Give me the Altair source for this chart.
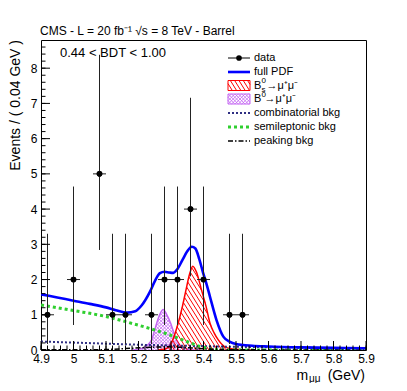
import altair as alt
import numpy as np
import pandas as pd

# ---------------- data ----------------
bin_x = [4.92, 5.00, 5.08, 5.12, 5.16, 5.24, 5.28, 5.32, 5.36, 5.40, 5.48, 5.52]
counts = [1, 2, 5, 1, 1, 1, 2, 2, 4, 2, 1, 1]
err_lo = [0.17, 0.71, 2.84, 0.17, 0.17, 0.17, 0.71, 0.71, 2.09, 0.71, 0.17, 0.17]
err_hi = [3.30, 4.64, 8.38, 3.30, 3.30, 3.30, 4.64, 4.64, 7.16, 4.64, 3.30, 3.30]
bin_half = 0.02

pdf_x = [4.90, 4.95, 5.00, 5.05, 5.10, 5.13, 5.165, 5.19, 5.21, 5.235, 5.25, 5.266, 5.28, 5.295,
         5.307, 5.32, 5.335, 5.35, 5.364, 5.375, 5.387, 5.399, 5.41, 5.42, 5.44, 5.461, 5.48,
         5.50, 5.55, 5.60, 5.70, 5.80, 5.90]
pdf_y = [1.58, 1.49, 1.40, 1.31, 1.21, 1.13, 1.06, 1.10, 1.27, 1.65, 1.95, 2.18, 2.22, 2.20,
         2.19, 2.30, 2.55, 2.80, 2.93, 2.88, 2.58, 2.18, 1.85, 1.51, 0.85, 0.38, 0.24,
         0.17, 0.12, 0.10, 0.075, 0.06, 0.05]

bs_x = [5.26, 5.28, 5.292, 5.305, 5.322, 5.335, 5.346, 5.357, 5.367, 5.378, 5.394, 5.408,
        5.42, 5.433, 5.446, 5.466, 5.49, 5.52, 5.56]
bs_y = [0.0, 0.03, 0.08, 0.28, 0.76, 1.23, 1.70, 2.15, 2.38, 2.22, 1.70, 1.23,
        0.76, 0.48, 0.28, 0.09, 0.03, 0.01, 0.0]

b0_x = [5.18, 5.20, 5.22, 5.24, 5.256, 5.266, 5.276, 5.286, 5.299, 5.31, 5.317, 5.335, 5.36, 5.39]
b0_y = [0.0, 0.02, 0.08, 0.28, 0.76, 1.02, 1.15, 1.02, 0.76, 0.45, 0.28, 0.08, 0.01, 0.0]

comb_x = [4.9, 5.0, 5.1, 5.2, 5.3, 5.4, 5.5, 5.6, 5.7, 5.8, 5.9]
comb_y = [0.24, 0.21, 0.18, 0.15, 0.13, 0.11, 0.09, 0.08, 0.065, 0.055, 0.045]

semi_x = [4.9, 5.0, 5.1, 5.17, 5.235, 5.29, 5.338, 5.39, 5.43, 5.46, 5.6, 5.9]
semi_y = [1.28, 1.12, 0.95, 0.78, 0.61, 0.45, 0.28, 0.10, 0.02, 0.0, 0.0, 0.0]

peak_x = [4.9, 5.05, 5.12, 5.18, 5.24, 5.29, 5.34, 5.39, 5.44, 5.5, 5.9]
peak_y = [0.005, 0.005, 0.02, 0.05, 0.08, 0.09, 0.07, 0.04, 0.015, 0.005, 0.0]

x_ticks = [4.9, 5.0, 5.1, 5.2, 5.3, 5.4, 5.5, 5.6, 5.7, 5.8, 5.9]
y_ticks = [0, 1, 2, 3, 4, 5, 6, 7, 8]

# ---------------- geometry ----------------
W, H = 325, 310
XMIN, XMAX, YMAX = 4.9, 5.9, 8.8
SX = W / (XMAX - XMIN)
SY = H / YMAX
FONT = "Liberation Sans"

xs = alt.Scale(domain=[XMIN, XMAX], nice=False, zero=False)
ys = alt.Scale(domain=[0, YMAX], nice=False, zero=False)

AX = alt.Axis(values=x_ticks, labelExpr="format(datum.value, '.1~f')",
              ticks=False, domain=False, grid=False, title=None,
              labelFont=FONT, labelFontSize=12, labelColor="black",
              labelPadding=3, labelFlush=False)
AY = alt.Axis(values=y_ticks, format="d", ticks=False, domain=False,
              grid=False, title=None, labelFont=FONT, labelFontSize=12,
              labelColor="black", labelPadding=4, labelFlush=False)


def X(f):
    return alt.X(f, type="quantitative", scale=xs, axis=AX)


def Y(f):
    return alt.Y(f, type="quantitative", scale=ys, axis=AY)


def hatch(cx, cy, spacing_px, slope_px):
    """segments of parallel lines clipped to the area under the curve (data coords)."""
    m = -slope_px * SX / SY
    lo, hi = min(cx), max(cx)
    grid = np.linspace(lo, hi, 3000)
    f = np.interp(grid, cx, cy)
    span = max(cy) / abs(m)
    segs = []
    for c in np.arange(lo - span, hi + span, spacing_px / SX):
        yl = m * (grid - c)
        inside = (yl >= 0) & (yl <= f)
        edges = np.flatnonzero(np.diff(np.concatenate([[0], inside.astype(int), [0]])))
        for a, b in zip(edges[::2], edges[1::2]):
            if b - a < 2:
                continue
            segs.append((grid[a], yl[a], grid[b - 1], yl[b - 1]))
    return pd.DataFrame(segs, columns=["x", "y", "x2", "y2"])


def hatch_box(x0, x1, y0, y1, spacing, slope):
    """hatch lines inside a legend rectangle given in pixels, returned in data coords."""
    grid = np.linspace(x0, x1, 400)
    segs = []
    span = (y1 - y0) / abs(slope)
    for c in np.arange(x0 - span, x1 + span, spacing):
        yl = y0 + slope * (grid - c) if slope > 0 else y1 + slope * (grid - c)
        inside = (yl >= y0) & (yl <= y1)
        idx = np.flatnonzero(inside)
        if len(idx) < 2:
            continue
        a, b = idx[0], idx[-1]
        segs.append((XMIN + grid[a] / SX, (H - yl[a]) / SY, XMIN + grid[b] / SX, (H - yl[b]) / SY))
    return pd.DataFrame(segs, columns=["x", "y", "x2", "y2"])


def seg_layer(df, color, width=1.0):
    return alt.Chart(df).mark_rule(color=color, strokeWidth=width, clip=True).encode(
        x=X("x"), y=Y("y"), x2="x2", y2="y2")


RED = "#ff0000"
VIOLET = "#c466f2"
BLUE = "#0000ff"
GREEN = "#2fcf2f"
NAVY = "#2e2e82"

df_bs = pd.DataFrame({"x": bs_x, "y": bs_y})
df_b0 = pd.DataFrame({"x": b0_x, "y": b0_y})
df_data = pd.DataFrame({"x": bin_x, "n": counts, "lo": err_lo, "hi": err_hi})
df_data["xl"] = df_data["x"] - bin_half
df_data["xr"] = df_data["x"] + bin_half

layers = []

# data points first (carries axes)
layers.append(alt.Chart(df_data).mark_circle(color="black", size=32, opacity=1)
              .encode(x=X("x"), y=Y("n")))

# hatched signal components
layers.append(seg_layer(hatch(b0_x, b0_y, 3.4, 1.0), VIOLET, 0.8))
layers.append(seg_layer(hatch(b0_x, b0_y, 3.4, -1.0), VIOLET, 0.8))
layers.append(alt.Chart(df_b0).mark_line(color=VIOLET, strokeWidth=1.5, interpolate="monotone", clip=True)
              .encode(x=X("x"), y=Y("y")))
layers.append(seg_layer(hatch(bs_x, bs_y, 4.3, 1.6), RED, 1.0))
layers.append(alt.Chart(df_bs).mark_line(color=RED, strokeWidth=1.5, interpolate="monotone", clip=True)
              .encode(x=X("x"), y=Y("y")))

# background lines
layers.append(alt.Chart(pd.DataFrame({"x": comb_x, "y": comb_y}))
              .mark_line(color=NAVY, strokeWidth=2, strokeDash=[2, 2], interpolate="monotone", clip=True)
              .encode(x=X("x"), y=Y("y")))
layers.append(alt.Chart(pd.DataFrame({"x": semi_x, "y": semi_y}))
              .mark_line(color=GREEN, strokeWidth=3, strokeDash=[3, 3], interpolate="monotone", clip=True)
              .encode(x=X("x"), y=Y("y")))
layers.append(alt.Chart(pd.DataFrame({"x": peak_x, "y": peak_y}))
              .mark_line(color="black", strokeWidth=1.5, strokeDash=[5, 2, 1.5, 2], interpolate="monotone", clip=True)
              .encode(x=X("x"), y=Y("y")))

# full pdf
layers.append(alt.Chart(pd.DataFrame({"x": pdf_x, "y": pdf_y}))
              .mark_line(color=BLUE, strokeWidth=2.6, interpolate="monotone", clip=True)
              .encode(x=X("x"), y=Y("y")))

# data error bars and points on top
layers.append(alt.Chart(df_data).mark_rule(color="#222222", strokeWidth=1, clip=True)
              .encode(x=X("x"), y=Y("lo"), y2="hi"))
layers.append(alt.Chart(df_data).mark_rule(color="#222222", strokeWidth=1, clip=True)
              .encode(x=X("xl"), x2="xr", y=Y("n")))
layers.append(alt.Chart(df_data).mark_circle(color="black", size=32, opacity=1)
              .encode(x=X("x"), y=Y("n")))

# inward ticks
xmaj = pd.DataFrame({"v": x_ticks})
xmin_ = pd.DataFrame({"v": [round(XMIN + 0.02 * i, 2) for i in range(51)]})
ymaj = pd.DataFrame({"v": y_ticks})
ymin_ = pd.DataFrame({"v": [round(0.2 * i, 1) for i in range(44)]})
layers.append(alt.Chart(xmaj).mark_rule(color="black", strokeWidth=1)
              .encode(x=X("v"), y=alt.value(H), y2=alt.value(H - 9)))
layers.append(alt.Chart(xmin_).mark_rule(color="black", strokeWidth=1)
              .encode(x=X("v"), y=alt.value(H), y2=alt.value(H - 4.5)))
layers.append(alt.Chart(ymaj).mark_rule(color="black", strokeWidth=1)
              .encode(y=Y("v"), x=alt.value(0), x2=alt.value(9)))
layers.append(alt.Chart(ymin_).mark_rule(color="black", strokeWidth=1)
              .encode(y=Y("v"), x=alt.value(0), x2=alt.value(4.5)))


def txt(s, x, y, size=12, align="left", baseline="middle", angle=0, color="black"):
    kw = dict(text=s, font=FONT, fontSize=size, align=align, baseline=baseline, color=color)
    if angle:
        kw["angle"] = angle
    return alt.Chart(pd.DataFrame({"a": [0]})).mark_text(**kw).encode(
        x=alt.value(x), y=alt.value(y))


def hline(x0, x1, y, color, width, dash=None):
    kw = dict(color=color, strokeWidth=width)
    if dash:
        kw["strokeDash"] = dash
    return alt.Chart(pd.DataFrame({"a": [0]})).mark_rule(**kw).encode(
        x=alt.value(x0), x2=alt.value(x1), y=alt.value(y))


# titles
layers.append(txt("CMS - L = 20 fb⁻¹ √s = 8 TeV - Barrel", -1, -5, 12, baseline="alphabetic"))
layers.append(txt("0.44 < BDT < 1.00", 19, 17, 13, baseline="alphabetic"))
layers.append(txt("Events / ( 0.04 GeV )", -25.5, 0, 14, align="right", baseline="middle", angle=270))
layers.append(txt("(GeV)", 324, 339.5, 14, align="right", baseline="alphabetic"))
layers.append(txt("m", 255.5, 339.5, 14, baseline="alphabetic"))
layers.append(txt("μμ", 268, 341.5, 10, baseline="alphabetic"))

# legend
LX0, LX1, LT = 187, 209, 213
rows = [18, 32, 45.5, 59, 73, 87, 101]
layers.append(hline(LX0, LX1, rows[0], "black", 1))
layers.append(alt.Chart(pd.DataFrame({"a": [0]})).mark_circle(color="black", size=32, opacity=1)
              .encode(x=alt.value((LX0 + LX1) / 2), y=alt.value(rows[0])))
layers.append(txt("data", LT, rows[0], 11))
layers.append(hline(LX0, LX1, rows[1], BLUE, 2.6))
layers.append(txt("full PDF", LT, rows[1], 11))
# Bs box
layers.append(seg_layer(hatch_box(LX0, LX1, rows[2] - 5, rows[2] + 5, 4.3, 1.6), RED, 1))
layers.append(alt.Chart(pd.DataFrame({"a": [0]})).mark_rect(fill=None, stroke=RED, strokeWidth=1)
              .encode(x=alt.value(LX0), x2=alt.value(LX1), y=alt.value(rows[2] - 5), y2=alt.value(rows[2] + 5)))
layers.append(txt("B", LT, rows[2], 11))
layers.append(txt("0", LT + 7.5, rows[2] - 4.5, 8))
layers.append(txt("s", LT + 7.5, rows[2] + 4, 8))
layers.append(txt("→μ⁺μ⁻", LT + 12.5, rows[2], 11))
# B0 box
layers.append(seg_layer(hatch_box(LX0, LX1, rows[3] - 5, rows[3] + 5, 3.4, 1.0), VIOLET, 0.8))
layers.append(seg_layer(hatch_box(LX0, LX1, rows[3] - 5, rows[3] + 5, 3.4, -1.0), VIOLET, 0.8))
layers.append(alt.Chart(pd.DataFrame({"a": [0]})).mark_rect(fill=None, stroke=VIOLET, strokeWidth=1)
              .encode(x=alt.value(LX0), x2=alt.value(LX1), y=alt.value(rows[3] - 5), y2=alt.value(rows[3] + 5)))
layers.append(txt("B", LT, rows[3], 11))
layers.append(txt("0", LT + 7.5, rows[3] - 4.5, 8))
layers.append(txt("→μ⁺μ⁻", LT + 10.5, rows[3], 11))
layers.append(hline(LX0, LX1, rows[4], NAVY, 2, [2, 2]))
layers.append(txt("combinatorial bkg", LT, rows[4], 11))
layers.append(hline(LX0, LX1, rows[5], GREEN, 3, [3, 3]))
layers.append(txt("semileptonic bkg", LT, rows[5], 11))
layers.append(hline(LX0, LX1, rows[6], "black", 1.5, [5, 2, 1.5, 2]))
layers.append(txt("peaking bkg", LT, rows[6], 11))

chart = alt.layer(*layers).properties(
    width=W, height=H,
    padding={"left": 33, "top": 32, "right": 33, "bottom": 33},
    autosize=alt.AutoSizeParams(type="none"),
).configure_view(stroke="black", strokeWidth=1)

chart.save("out.html", embed_options={"renderer": "svg", "actions": False})
